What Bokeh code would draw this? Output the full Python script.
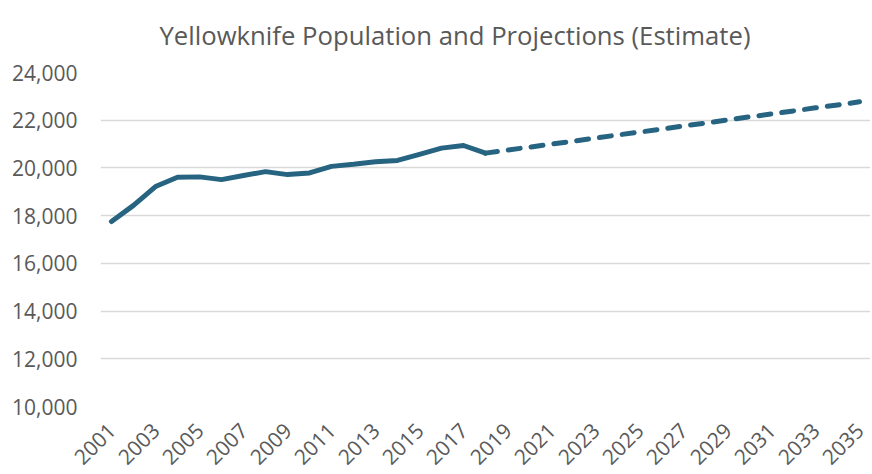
from bokeh.plotting import figure
from bokeh.models import FixedTicker, CustomJSTickFormatter, Range1d
from bokeh.embed import file_html
from bokeh.resources import INLINE
import math

hist_years = list(range(2001, 2019))
hist_pop = [17750, 18430, 19220, 19610, 19625, 19510, 19680, 19845, 19720, 19790,
            20065, 20150, 20260, 20315, 20565, 20830, 20940, 20620]

proj_years = list(range(2018, 2036))
proj_pop = [20620, 20750, 20870, 21000, 21120, 21250, 21380, 21500, 21630, 21760,
            21880, 22010, 22140, 22260, 22390, 22520, 22640, 22770]

x_ticks = list(range(2001, 2036, 2))
y_ticks = list(range(10000, 24001, 2000))

TITLE = "Yellowknife Population and Projections (Estimate)"
TEXT = "#595959"
LINE = "#276482"
FONT = "Open Sans"

p = figure(width=870, height=474, output_backend="svg", toolbar_location=None,
           x_range=Range1d(2000.5, 2035.5), y_range=Range1d(10000, 24000),
           min_border_left=100, min_border_right=0, min_border_top=72,
           min_border_bottom=65, title=TITLE)
p.outline_line_color = None
p.background_fill_color = "white"

p.title.align = "left"
p.title.vertical_align = "top"
p.title.text_font = FONT
p.title.text_font_size = "25.7px"
p.title.text_font_style = "normal"
p.title.text_color = TEXT
p.title.offset = 59
p.title.standoff = 35

p.line(hist_years, hist_pop, line_color=LINE, line_width=5,
       line_join="round", line_cap="round")
p.line(proj_years, proj_pop, line_color=LINE, line_width=5,
       line_dash="12 11", line_cap="round", line_join="round")

p.xaxis.ticker = FixedTicker(ticks=x_ticks)
p.xaxis.formatter = CustomJSTickFormatter(code="return String(tick);")
p.xaxis.major_label_orientation = math.pi / 4
p.xaxis.major_label_standoff = 20
p.yaxis.ticker = FixedTicker(ticks=y_ticks)
p.yaxis.formatter = CustomJSTickFormatter(
    code="return tick.toLocaleString('en-US');")
p.yaxis.major_label_standoff = 23

for ax in (p.xaxis, p.yaxis):
    ax.axis_line_color = None
    ax.major_tick_line_color = None
    ax.minor_tick_line_color = None
    ax.major_tick_in = 0
    ax.major_tick_out = 0
    ax.major_label_text_font = FONT
    ax.major_label_text_color = TEXT
p.yaxis.major_label_text_font_size = "21px"
p.xaxis.major_label_text_font_size = "21px"

p.xgrid.grid_line_color = None
p.ygrid.grid_line_color = "#d9d9d9"
p.ygrid.grid_line_width = 1.5

open("out.html", "w").write(file_html(p, INLINE))
